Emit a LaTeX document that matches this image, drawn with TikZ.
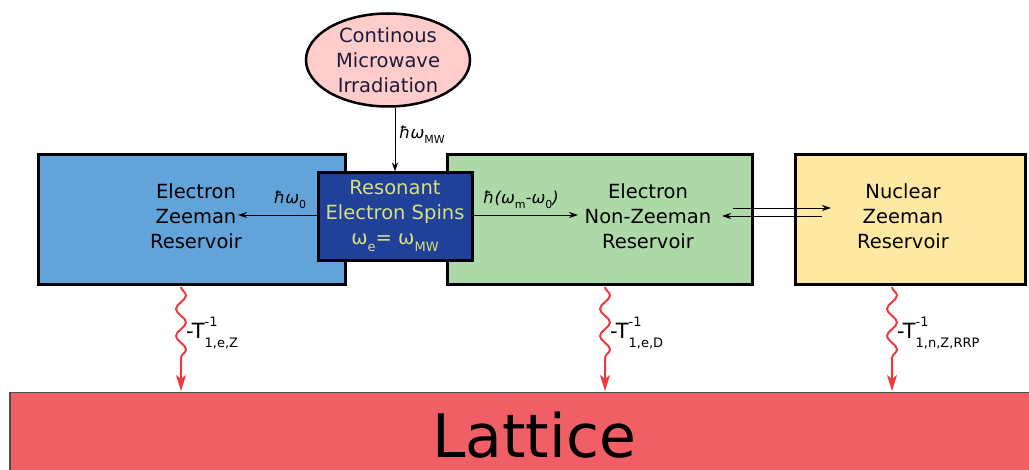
\documentclass[tikz,border=0pt]{standalone}
\usepackage{fontspec}
\setmainfont{DejaVu Sans}
\usetikzlibrary{shapes.geometric,arrows.meta,decorations.pathmorphing}
\definecolor{bluebox}{HTML}{62A4DA}
\definecolor{greenbox}{HTML}{ADD8A8}
\definecolor{yellowbox}{HTML}{FFE9A2}
\definecolor{pinkell}{HTML}{FFCCCC}
\definecolor{resbox}{HTML}{21409A}
\definecolor{restext}{HTML}{D6E07C}
\definecolor{latticec}{HTML}{F05F66}
\definecolor{wavec}{HTML}{EE3A3F}
\definecolor{elltext}{HTML}{1C1C38}
\newcommand{\lsub}[1]{\raisebox{-0.6ex}{\fontsize{11}{11}\selectfont\upshape #1}}
\newcommand{\rsub}[1]{\raisebox{-0.6ex}{\fontsize{13}{13}\selectfont\upshape #1}}
\newcommand{\Tlab}[1]{-T\rlap{\raisebox{1.05ex}{\fontsize{13}{13}\selectfont -1}}\raisebox{-0.75ex}{\fontsize{13}{13}\selectfont #1}}
\begin{document}
\begin{tikzpicture}[x=1pt,y=-1pt,
  res/.style={draw=black, line width=3pt, inner sep=0pt},
  boxtext/.style={align=center, font=\fontsize{19.5}{25}\selectfont, inner sep=0pt},
  lbl/.style={font=\fontsize{16.5}{18}\selectfont, inner sep=0pt},
  arr/.style={-{Stealth[length=9pt,width=6pt]}, line width=0.9pt},
  wave/.style={draw=wavec, line width=2pt, decorate,
     decoration={snake, amplitude=5pt, segment length=27pt, post length=28pt},
     -{Stealth[length=16pt,width=10pt,inset=4pt]}},
  tlab/.style={font=\fontsize{21}{22}\selectfont, inner sep=0pt, anchor=west}]
\useasboundingbox (0,0) rectangle (1029,470);
% lattice
\begin{scope}
\clip (0,0) rectangle (1029,470);
\node[draw=black!70, line width=1.5pt, fill=latticec, minimum width=1040pt, minimum height=100pt, inner sep=0pt, anchor=north west] (lat) at (9,392) {};
\end{scope}
\node[font=\fontsize{60}{60}\selectfont, inner sep=0pt] (lattxt) at (534,435) {Lattice};
% boxes
\node[res, fill=bluebox, minimum width=307pt, minimum height=130pt] (ez) at (191.5,220) {};
\node[res, fill=greenbox, minimum width=305pt, minimum height=130pt] (enz) at (599.5,220) {};
\node[res, fill=yellowbox, minimum width=230pt, minimum height=130pt] (nz) at (910,220) {};
\node[res, fill=resbox, minimum width=154pt, minimum height=88pt] (rs) at (395,217) {};
\node[boxtext] (eztxt) at (196,216) {Electron\\Zeeman\\Reservoir};
\node[boxtext] (enztxt) at (648,216) {Electron\\Non-Zeeman\\Reservoir};
\node[boxtext] (nztxt) at (903,216) {Nuclear\\Zeeman\\Reservoir};
\node[boxtext, text=restext] (rstxt) at (395,216) {Resonant\\Electron Spins\\ω\rsub{e}= ω\rsub{MW}};
% ellipse
\node[ellipse, draw=black, line width=2.5pt, fill=pinkell, minimum width=164pt, minimum height=93pt, inner sep=0pt,
  align=center, text=elltext, font=\fontsize{19.5}{25}\selectfont] (mw) at (388,60) {Continous\\Microwave\\Irradiation};
% arrows
\draw[arr] (mw.south -| rs.north) -- (rs.north);
\node[lbl, anchor=west] (lmw) at (399,135) {\itshape ħω\lsub{MW}};
\coordinate (lt) at (238,215);
\coordinate (rt) at (578,215);
\draw[arr] (rs.west |- lt) -- (lt);
\draw[arr] (rs.east |- rt) -- (rt);
\node[lbl] (l0) at (290,200) {\itshape ħω\lsub{0}};
\node[lbl] (lm) at (521,200) {\itshape ħ(ω\lsub{m}-ω\lsub{0})};
\coordinate (a1s) at (733,208);
\coordinate (a1e) at (831,208);
\coordinate (a2s) at (822,216);
\coordinate (a2e) at (722,216);
\draw[arr] (a1s) -- (a1e);
\draw[arr] (a2s) -- (a2e);
% wavy arrows
\coordinate (w1s) at (181,287);
\coordinate (w1e) at (181,391);
\coordinate (w2s) at (605,287);
\coordinate (w2e) at (605,391);
\coordinate (w3s) at (892,287);
\coordinate (w3e) at (892,391);
\draw[wave] (w1s) -- (w1e);
\draw[wave] (w2s) -- (w2e);
\draw[wave] (w3s) -- (w3e);
\node[tlab] (t1) at (186,333) {\Tlab{1,e,Z}};
\node[tlab] (t2) at (610,333) {\Tlab{1,e,D}};
\node[tlab] (t3) at (897,333) {\Tlab{1,n,Z,RRP}};
\end{tikzpicture}
\end{document}
